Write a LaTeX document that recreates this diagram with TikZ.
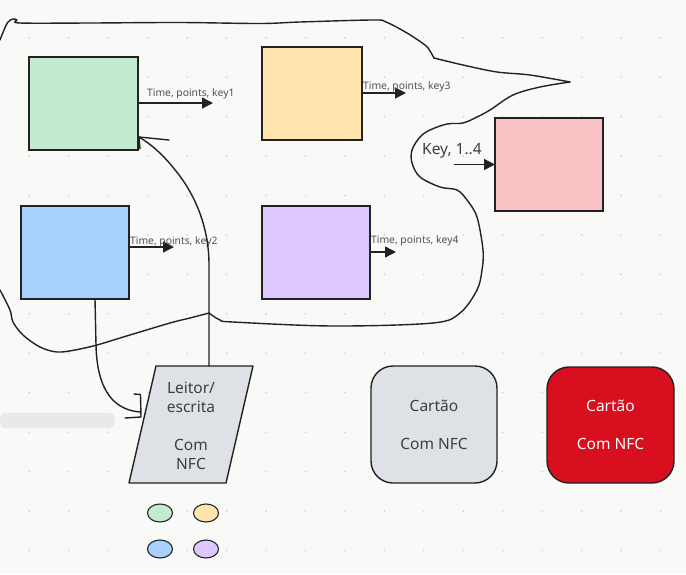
\documentclass[tikz,border=0pt]{standalone}
\usepackage{fontspec}
\setmainfont{Noto Sans}
\usetikzlibrary{arrows.meta,shapes.geometric}
\definecolor{bg}{HTML}{F9F9F8}
\definecolor{dotc}{HTML}{CFCFCF}
\definecolor{border}{HTML}{222222}
\definecolor{cgreen}{HTML}{C3EBCF}
\definecolor{corange}{HTML}{FFE4AE}
\definecolor{cpink}{HTML}{F9C3C6}
\definecolor{cblue}{HTML}{A8D1FF}
\definecolor{cpurple}{HTML}{DCC8FF}
\definecolor{cgray}{HTML}{DEE1E6}
\definecolor{cred}{HTML}{D80F1F}
\definecolor{txt}{HTML}{3A3F45}
\definecolor{lbltxt}{HTML}{505050}
\definecolor{smear}{HTML}{E9E9E9}
\begin{document}
\begin{tikzpicture}[x=1pt,y=-1pt,
  box/.style={draw=border, line width=1.5pt, inner sep=0pt, outer sep=0pt, minimum height=93pt},
  arr/.style={line width=1.4pt, draw=border, -{Triangle[length=11pt,width=11pt]}},
  lbl/.style={text=lbltxt, font=\fontsize{10.3}{12}\selectfont, inner sep=0pt, anchor=west},
  bigtext/.style={text=txt, font=\fontsize{15.5}{19}\selectfont, align=center, inner sep=0pt},
  card/.style={draw=border, line width=1.4pt, rounded corners=22pt, minimum width=126pt, minimum height=117pt, inner sep=0pt, align=center, font=\fontsize{15.5}{19}\selectfont},
  para/.style={draw=border, line width=1.4pt, fill=cgray, line join=round},
  freeline/.style={draw=border, line width=1.4pt, line cap=round, line join=round},
  dotell/.style={ellipse, draw=border, line width=1.1pt, minimum width=25pt, minimum height=18pt, inner sep=0pt}
]
\useasboundingbox (0,0) rectangle (686,574);
\fill[bg] (0,0) rectangle (686,574);
\foreach \i in {0,...,16}{\foreach \j in {0,...,13}{\fill[dotc] (29.3+\i*39.45, 37.7+\j*39.45) circle (0.9pt);}}
% faint smear
\fill[smear, rounded corners=5pt] (0,413) rectangle (115,428);

% boxes
\node[box, fill=cgreen, minimum width=109pt] (green) at (83.5,103.5) {};
\node[box, fill=corange, minimum width=100pt] (orange) at (312,93.5) {};
\node[box, fill=cpink, minimum width=108pt] (pink) at (549,164.5) {};
\node[box, fill=cblue, minimum width=108pt] (blue) at (75,252.5) {};
\node[box, fill=cpurple, minimum width=108pt] (purple) at (316,252.5) {};

% arrows and labels
\coordinate (g1e) at (213,103);
\draw[arr] (green.east |- g1e) -- (g1e);
\node[lbl] (l1) at (147,94) {Time, points, key1};
\coordinate (o1e) at (406,93);
\draw[arr] (orange.east |- o1e) -- (o1e);
\node[lbl] (l3) at (363,87) {Time, points, key3};
\coordinate (b1e) at (174,247);
\draw[arr] (blue.east |- b1e) -- (b1e);
\node[lbl] (l2) at (130,242) {Time, points, key2};
\coordinate (p1e) at (396,252);
\draw[arr] (purple.east |- p1e) -- (p1e);
\node[lbl] (l4) at (371,241) {Time, points, key4};
\coordinate (ks) at (454,164.5);
\draw[arr] (ks) -- (pink.west);
\node[text=txt, font=\fontsize{15.5}{19}\selectfont, inner sep=0pt, anchor=west] (keylbl) at (422,151) {Key, 1..4};

% parallelogram reader
\coordinate (pTL) at (156,366);
\coordinate (pTR) at (253,366);
\coordinate (pBR) at (226,483);
\coordinate (pBL) at (129,483);
\draw[para] (pTL) -- (pTR) -- (pBR) -- (pBL) -- cycle;
\node[bigtext] (reader) at (191,426) {Leitor/\\escrita\\[19pt]Com\\NFC};

% cards
\node[card, fill=cgray, text=txt] (card1) at (434,424.5) {Cartão\\[19pt]Com NFC};
\node[card, fill=cred, text=white, minimum width=127pt, minimum height=116pt] (card2) at (610.5,425) {Cartão\\[19pt]Com NFC};

% small ellipses
\node[dotell, fill=cgreen] (e1) at (160,513) {};
\node[dotell, fill=corange] (e2) at (206,513) {};
\node[dotell, fill=cblue] (e3) at (160,549) {};
\node[dotell, fill=cpurple] (e4) at (206,549) {};

% connector blue -> reader
\coordinate (bs) at ([xshift=20pt]blue.south);
\coordinate (rin) at (140,412);
\draw[freeline] (bs) -- (96,345) .. controls (97,392) and (115,410) .. (rin);
\draw[freeline] (134,394) -- (140.5,394.5) -- (141,417) -- (125,418);

% connector reader -> green
\coordinate (rtop) at (209,366);
\coordinate (gin) at (139,137);
\draw[freeline] (rtop) -- (209,265) .. controls (209,228) and (196,196) .. (176,171) .. controls (161,152) and (149,143) .. (gin);
\draw[freeline] (169,140) -- (gin) -- (140,149);

% big freeform loop
\draw[freeline] plot[smooth, tension=0.55] coordinates {(0,40) (4,30) (8,22) (13,19) (17,20) (20,23) (90,23) (180,22.5) (260,23.5) (300,22) (373,20) (386,22) (407,33) (425,45) (430,51) (434,58)};
\draw[freeline] plot[smooth, tension=0.55] coordinates {(434,58) (463,65) (497,72) (530,75) (570,82)};
\draw[freeline] plot[smooth, tension=0.55] coordinates {(570,82) (540,87) (513,95) (490,110) (477,117) (463,123) (447,124) (430,130) (420,137) (412,150) (412,163) (420,177) (440,187) (457,190) (467,200) (477,217) (483,250) (482,270) (477,290) (460,313) (433,323) (333,326) (233,322) (220,320) (209,313)};
\draw[freeline] plot[smooth, tension=0.55] coordinates {(209,313) (190,318) (170,323) (120,338) (97,345) (75,350) (57,352) (40,347) (23,335) (13,322) (10,310) (0,290)};
\end{tikzpicture}
\end{document}
